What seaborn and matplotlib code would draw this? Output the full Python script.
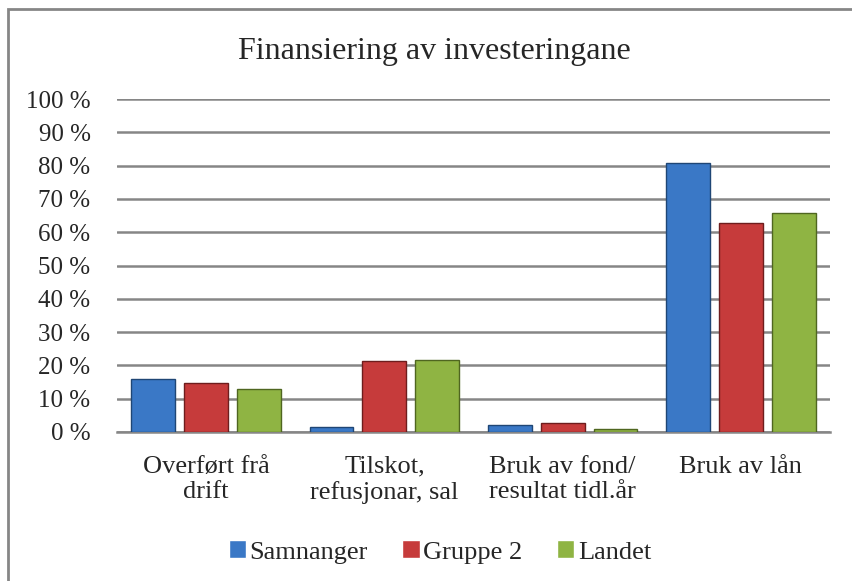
import numpy as np
import pandas as pd
import matplotlib
matplotlib.use('Agg')
import matplotlib.pyplot as plt
import seaborn as sns
from matplotlib.patches import Rectangle

# Data (share of investment financing, %)
categories = ['Overført frå\ndrift', 'Tilskot,\nrefusjonar, sal',
              'Bruk av fond/\nresultat tidl.år', 'Bruk av lån']
series = ['Samnanger', 'Gruppe 2', 'Landet']
samnanger = [15.9, 1.5, 2.2, 80.7]
gruppe2 = [14.6, 21.3, 2.6, 62.7]
landet = [12.8, 21.6, 0.9, 65.7]
y_ticks = [0, 10, 20, 30, 40, 50, 60, 70, 80, 90, 100]
y_labels = [f'{t} %' for t in y_ticks]

colors = ['#3a78c6', '#c63b3b', '#8fb443']
edges = ['#1f4675', '#6e1d1d', '#4f6620']

df = pd.DataFrame({
    'kategori': np.repeat(categories, len(series)),
    'serie': series * len(categories),
    'verdi': np.array([samnanger, gruppe2, landet]).T.flatten(),
})

sns.set_style('white')
plt.rcParams['font.family'] = ['Liberation Serif', 'DejaVu Serif']

fig = plt.figure(figsize=(8.52, 5.81), dpi=100)
ax = fig.add_axes([117 / 852, 1 - 432 / 581, (830 - 117) / 852, (432 - 99) / 581])

sns.barplot(data=df, x='kategori', y='verdi', hue='serie', hue_order=series,
            palette=colors, saturation=1, width=0.89, gap=0.17, ax=ax,
            legend=True, zorder=3)

# darker edges per series
for cont, ec in zip(ax.containers, edges):
    for bar in cont:
        bar.set_edgecolor(ec)
        bar.set_linewidth(1.0)

ax.set_ylim(0, 100)
ax.set_xlim(-0.5, 3.5)
ax.set_yticks(y_ticks)
ax.set_yticklabels(y_labels, fontsize=18)
ax.tick_params(axis='x', labelsize=19, length=0, pad=17)
ax.tick_params(axis='y', length=0, pad=19)
ax.set_xlabel('')
ax.set_ylabel('')
ax.grid(axis='y', color='#868686', linewidth=1.8, zorder=0)
ax.set_axisbelow(True)
for s in ['top', 'right', 'left']:
    ax.spines[s].set_visible(False)
ax.spines['bottom'].set_color('#868686')
ax.spines['bottom'].set_linewidth(1.8)

fig.text(434 / 852, 1 - 52 / 581, 'Finansiering av investeringane',
         ha='center', va='center', fontsize=23)

handles, labels = ax.get_legend_handles_labels()
ax.legend_.remove()
fig.legend(handles, labels, loc='center', bbox_to_anchor=(440 / 852, 1 - 552 / 581),
           ncol=3, frameon=False, fontsize=19, handlelength=0.65, handleheight=0.65,
           handletextpad=0.15, columnspacing=1.3)

# chart frame
fig.patches.append(Rectangle((8 / 852, -0.05), 1.1, 1 - 9 / 581 + 0.05,
                             transform=fig.transFigure, fill=False,
                             edgecolor='#868686', linewidth=2))

fig.savefig('out.png', dpi=100)
